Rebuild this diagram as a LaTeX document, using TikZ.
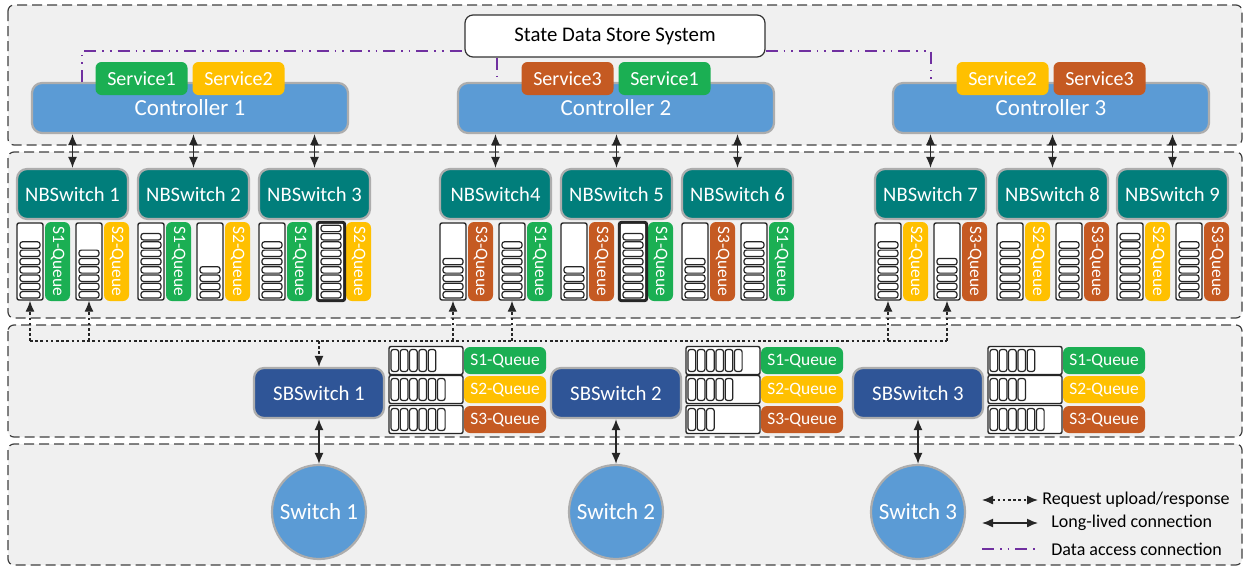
\documentclass[tikz,border=0pt]{standalone}
\usepackage{fontspec}
\setmainfont{Carlito}
\usetikzlibrary{arrows.meta}

\definecolor{ctrlblue}{HTML}{5B9BD5}
\definecolor{nbteal}{HTML}{017E7B}
\definecolor{sbblue}{HTML}{2F5597}
\definecolor{sone}{HTML}{1BAF53}
\definecolor{stwo}{HTML}{FFC000}
\definecolor{sthree}{HTML}{C55A22}
\definecolor{dataline}{HTML}{7030A0}
\definecolor{panel}{HTML}{F0F0F0}

\tikzset{
    panelbox/.style={draw=black!75, fill=panel, line width=0.6pt,
        dash pattern=on 5pt off 2.5pt, rounded corners=3pt},
    softedge/.style={draw=black!32, line width=1.1pt},
    ctrlbox/.style={fill=ctrlblue, text=white, rounded corners=5pt, inner sep=0pt,
        minimum width=158pt, minimum height=25pt,
        font=\fontsize{11.5}{13}\selectfont, softedge},
    svcbox/.style={text=white, rounded corners=3pt, inner sep=0pt,
        minimum width=46pt, minimum height=16.5pt, font=\fontsize{10}{12}\selectfont},
    storebox/.style={draw=black!80, fill=white, line width=0.6pt, rounded corners=4pt,
        inner sep=0pt, minimum width=150pt, minimum height=21pt,
        font=\fontsize{10.4}{12}\selectfont},
    nbbox/.style={fill=nbteal, text=white, rounded corners=5pt, inner sep=0pt,
        minimum width=55.5pt, minimum height=25pt,
        font=\fontsize{10.3}{12}\selectfont, softedge},
    sbbox/.style={fill=sbblue, text=white, rounded corners=5pt, inner sep=0pt,
        minimum width=65pt, minimum height=25pt,
        font=\fontsize{10.4}{12}\selectfont, softedge},
    swnode/.style={circle, fill=ctrlblue, text=white, inner sep=0pt, minimum size=47pt,
        font=\fontsize{11.5}{13}\selectfont, softedge},
    nbbuf/.style={draw=black!85, fill=white, line width=0.7pt, rounded corners=1pt,
        inner sep=0pt, minimum width=13pt, minimum height=38.5pt},
    sbbuf/.style={draw=black!85, fill=white, line width=0.7pt, rounded corners=1pt,
        inner sep=0pt, minimum width=37pt, minimum height=14pt},
    qtag/.style={text=white, rounded corners=3pt, inner sep=0pt, rotate=-90,
        minimum width=39.5pt, minimum height=12.5pt, font=\fontsize{8.7}{10}\selectfont},
    sbtag/.style={text=white, rounded corners=3pt, inner sep=0pt,
        minimum width=41pt, minimum height=13.5pt, font=\fontsize{8.7}{10}\selectfont},
    slot/.style={draw=black!85, fill=white, line width=0.6pt, rounded corners=1.2pt},
    live/.style={<->, black!85, line width=0.7pt},
    req/.style={black!85, line width=0.65pt, dash pattern=on 1.3pt off 1.3pt},
    data/.style={dataline, line width=0.8pt,
        dash pattern=on 6pt off 3pt on 0.8pt off 3pt on 0.8pt off 3pt},
    legtext/.style={anchor=west, inner sep=0pt, font=\fontsize{9}{11}\selectfont}
}

\begin{document}
\begin{tikzpicture}[x=0.5pt, y=-0.5pt, >={Latex[length=5.5pt,width=4.5pt]}]
    \useasboundingbox (0,0) rectangle (1248,568);
    % \draw[help lines] (0,0) grid[step=50] (1248,568);

    % the four planes
    \draw[panelbox] (8,5) rectangle (1242,145);
    \draw[panelbox] (8,152) rectangle (1242,318);
    \draw[panelbox] (8,325) rectangle (1242,437);
    \draw[panelbox] (8,444) rectangle (1242,565);

    % controllers and the store
    \node[storebox] (store) at (615,36) {State Data Store System};
    \node[ctrlbox] (ctrl1) at (190,108) {Controller 1};
    \node[ctrlbox] (ctrl2) at (616,108) {Controller 2};
    \node[ctrlbox] (ctrl3) at (1051,108) {Controller 3};

    \coordinate (da) at (82,51);
    \coordinate (db) at (931,51);
    \coordinate (dc) at (497,0);
    \draw[data] (da |- ctrl1.north) -- (da) -- (da -| store.west);
    \draw[data] (db -| store.east) -- (db) -- (db |- ctrl3.north);
    \draw[data] (dc |- store.south) -- (dc |- ctrl2.north);

    \foreach \j/\ca/\qa/\cb/\qb in {1/sone/1/stwo/2, 2/sthree/3/sone/1, 3/stwo/2/sthree/3} {
        \node[svcbox, fill=\ca] (svc\j a) at ([xshift=-24.25pt]ctrl\j.north |- 0,78.5) {Service\qa};
        \node[svcbox, fill=\cb] (svc\j b) at ([xshift=24.25pt]ctrl\j.north |- 0,78.5) {Service\qb};
    }

    % northbound switches with their queues
    \foreach \i/\lab/\xo/\ca/\qa/\ma/\cb/\qb/\mb in {
        1/NBSwitch 1/17/sone/S1/7/stwo/S2/6,
        2/NBSwitch 2/138/sone/S1/8/stwo/S2/4,
        3/NBSwitch 3/259/sone/S1/7/stwo/S2/9,
        4/NBSwitch4/440/sthree/S3/5/sone/S1/7,
        5/NBSwitch 5/561/sthree/S3/4/sone/S1/8,
        6/NBSwitch 6/682/sthree/S3/5/sone/S1/7,
        7/NBSwitch 7/875/stwo/S2/7/sthree/S3/5,
        8/NBSwitch 8/997/stwo/S2/7/sthree/S3/7,
        9/NBSwitch 9/1117/stwo/S2/8/sthree/S3/7} {
        \node[nbbox] (nb\i) at (\xo+55.5,194) {\lab};
        \node[nbbuf] (qa\i) at (\xo+13,261.5) {};
        \node[qtag, fill=\ca] (ta\i) at (\xo+40.5,261.5) {\qa-Queue};
        \node[nbbuf] (qb\i) at (\xo+72,261.5) {};
        \node[qtag, fill=\cb] (tb\i) at (\xo+99.5,261.5) {\qb-Queue};
        \foreach \k in {1,...,\ma}
            \draw[slot] (\xo+3,{298-8.3*(\k-1)}) rectangle ++(20,-6.4);
        \foreach \k in {1,...,\mb}
            \draw[slot] (\xo+62,{298-8.3*(\k-1)}) rectangle ++(20,-6.4);
    }
    % full queues
    \foreach \q in {qb3,qb5}
        \draw[black!85, line width=1.4pt, rounded corners=1pt] (\q.south west) rectangle (\q.north east);

    \foreach \i/\j in {1/1,2/1,3/1,4/2,5/2,6/2,7/3,8/3,9/3}
        \draw[live] (nb\i.north |- ctrl\j.south) -- (nb\i.north);

    % southbound switches, their queues and the switches below
    \foreach \i/\xc in {1/319,2/616,3/918} {
        \node[sbbox] (sb\i) at (\xc,393) {SBSwitch \i};
        \node[swnode] (sw\i) at (\xc,512) {Switch \i};
        \draw[live] (sb\i.south) -- (sw\i.north);
    }
    \foreach \i/\xc/\y/\col/\q/\m in {
        1/319/360.5/sone/S1/5, 1/319/389.5/stwo/S2/6, 1/319/419.5/sthree/S3/6,
        2/616/360.5/sone/S1/6, 2/616/389.5/stwo/S2/5, 2/616/419.5/sthree/S3/3,
        3/918/360.5/sone/S1/5, 3/918/389.5/stwo/S2/4, 3/918/419.5/sthree/S3/6} {
        \node[sbbuf] (sq\i\q) at (\xc+107,\y) {};
        \node[sbtag, fill=\col] (st\i\q) at (\xc+186,\y) {\q-Queue};
        \foreach \k in {1,...,\m}
            \draw[slot] ({\xc+72+9.3*(\k-1)},\y-11) rectangle ++(7.6,22);
    }

    % request bus between NB queues and SBSwitch 1
    \coordinate (bus) at (0,341);
    \draw[req] (qa1.south |- bus) -- (qb7.south |- bus);
    \foreach \q in {qa1,qb1,qa4,qb4,qa7,qb7}
        \draw[req,->] (\q.south |- bus) -- (\q.south);
    \draw[req,->] (sb1.north |- bus) -- (sb1.north);

    % legend
    \node[legtext] (lg1) at (1042,500) {Request upload/response};
    \node[legtext] (lg2) at (1051,523) {Long-lived connection};
    \node[legtext] (lg3) at (1051,549) {Data access connection};
    \coordinate (ka) at (982,0);
    \coordinate (kb) at (1038,0);
    \draw[req,<->] (ka |- lg1) -- (kb |- lg1);
    \draw[live] (ka |- lg2) -- (kb |- lg2);
    \draw[data] (ka |- lg3) -- (kb |- lg3);
\end{tikzpicture}
\end{document}
